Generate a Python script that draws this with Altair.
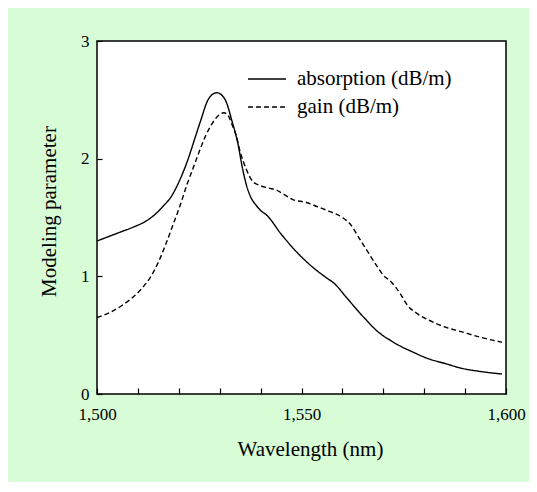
import altair as alt
import pandas as pd

# Absorption (solid line)
abs_wl = [1500, 1503, 1506, 1509, 1512, 1514, 1516, 1518, 1520, 1522, 1524, 1525.5,
          1527, 1528, 1529.3, 1530.5, 1531.5, 1533, 1534.5, 1535.5, 1536.5, 1537.5,
          1539, 1540, 1541.5, 1545, 1549, 1553, 1556, 1558, 1561, 1565, 1569, 1572,
          1574, 1577, 1581, 1585, 1589, 1594, 1599]
abs_val = [1.30, 1.34, 1.38, 1.42, 1.47, 1.52, 1.59, 1.67, 1.80, 1.97, 2.18, 2.34,
           2.49, 2.54, 2.56, 2.54, 2.49, 2.32, 2.12, 1.93, 1.78, 1.68,
           1.60, 1.56, 1.52, 1.36, 1.20, 1.07, 0.99, 0.94, 0.82, 0.66, 0.52, 0.45,
           0.41, 0.36, 0.30, 0.26, 0.22, 0.19, 0.17]

# Gain (dashed line)
gain_wl = [1500, 1503, 1506, 1508, 1510.5, 1513, 1515, 1517, 1518.5, 1520.3, 1522,
           1523.5, 1525, 1526.5, 1528, 1529.5, 1531, 1532, 1533, 1534, 1535, 1536.5,
           1538, 1540, 1542, 1544, 1546, 1548, 1551, 1554, 1557, 1560, 1562, 1564,
           1566, 1568, 1570, 1572, 1574, 1576, 1578, 1581, 1585, 1589, 1594, 1599]
gain_val = [0.65, 0.69, 0.75, 0.80, 0.88, 0.99, 1.12, 1.29, 1.43, 1.60, 1.78,
            1.92, 2.06, 2.19, 2.29, 2.36, 2.39, 2.37, 2.29, 2.20, 2.06, 1.91,
            1.81, 1.77, 1.75, 1.73, 1.69, 1.65, 1.63, 1.59, 1.55, 1.50, 1.44, 1.33,
            1.22, 1.11, 1.01, 0.95, 0.86, 0.75, 0.69, 0.63, 0.57, 0.53, 0.48, 0.44]

series_names = ["absorption (dB/m)", "gain (dB/m)"]
x_ticks = list(range(1500, 1601, 10))
y_ticks = [0, 1, 2, 3]

df = pd.concat([
    pd.DataFrame({"wl": abs_wl, "val": abs_val, "series": series_names[0], "order": range(len(abs_wl))}),
    pd.DataFrame({"wl": gain_wl, "val": gain_val, "series": series_names[1], "order": range(len(gain_wl))}),
])

FONT = "Liberation Serif, Times New Roman, DejaVu Serif, serif"

chart = alt.Chart(df).mark_line(interpolate="monotone", strokeWidth=1.4, color="black").encode(
    x=alt.X("wl:Q",
            scale=alt.Scale(domain=[1500, 1600], nice=False, zero=False),
            axis=alt.Axis(values=x_ticks, labelExpr="datum.value % 50 == 0 ? format(datum.value, ',') : ''",
                          domain=False, grid=False, offset=-6, tickSize=6, tickColor="black", tickWidth=1.2,
                          labelFlush=False, labelPadding=12, labelFont=FONT, labelFontSize=17,
                          labelColor="black",
                          title="Wavelength (nm)", titleFont=FONT, titleFontSize=21, titleFontWeight="normal",
                          titleColor="black", titleX=213, titleY=67, titleBaseline="alphabetic", zindex=1)),
    y=alt.Y("val:Q",
            scale=alt.Scale(domain=[0, 3], nice=False),
            axis=alt.Axis(values=y_ticks, domain=False, grid=False, offset=-5, tickSize=5, tickColor="black",
                          tickWidth=1.2, labelFlush=False, labelPadding=8, labelFont=FONT, labelFontSize=17,
                          labelColor="black",
                          title="Modeling parameter", titleFont=FONT, titleFontSize=21, titleFontWeight="normal",
                          titleColor="black", titleX=-47, titleY=170, titleAngle=270, titleAlign="center",
                          titleBaseline="alphabetic", zindex=1)),
    strokeDash=alt.StrokeDash("series:N",
                              scale=alt.Scale(domain=series_names, range=[[1, 0], [5, 3]]),
                              legend=alt.Legend(title=None, orient="none", legendX=150, legendY=28,
                                                symbolType="stroke", symbolSize=1444, symbolStrokeWidth=1.4,
                                                symbolStrokeColor="black", clipHeight=20, rowPadding=7,
                                                labelOffset=10, labelFont=FONT, labelFontSize=21,
                                                labelColor="black", padding=0)),
    order="order:Q",
).properties(
    width=409, height=353,
    autosize=alt.AutoSizeParams(type="none"),
    padding={"left": 89, "top": 33, "right": 23, "bottom": 88},
    background="#d8fcd6",
).configure_view(
    fill="white", stroke="black", strokeWidth=1.5,
)

chart.save("out.html", embed_options={"renderer": "svg", "actions": False})
